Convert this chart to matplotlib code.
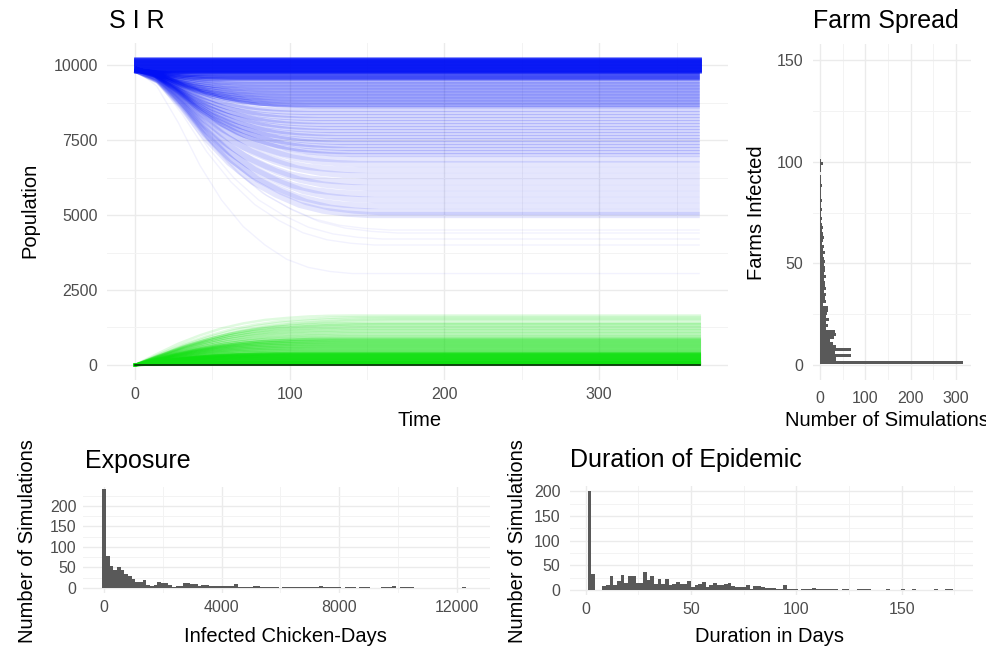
import matplotlib.pyplot as plt
import numpy as np

plt.rcParams['font.family'] = ['Liberation Sans', 'DejaVu Sans']

# ---- SIR simulations ----
days_total = 365
# simulations with no outbreak: susceptible stays flat at the starting size
s_flat = [10230, 10210, 10190, 10170, 10150, 10130, 10110, 10090, 10070, 10050,
          10030, 10010, 9990, 9970, 9950, 9930, 9910, 9890, 9870, 9850, 9830, 9810, 9790, 9770]
s_start = 9850
# simulations with an outbreak: final susceptible, day it levels off, final recovered
s_final = [9750, 9720, 9690, 9660, 9630, 9600, 9570, 9540, 9510,
           9450, 9400, 9350, 9300, 9250, 9200, 9150,
           9100, 9050, 9000, 8950, 8900, 8850, 8800, 8750, 8700, 8650, 8600,
           8500, 8400, 8300, 8200, 8100, 8000, 7900, 7800, 7700, 7600, 7500, 7400,
           7300, 7200, 7100, 7000,
           6850, 6700, 6500, 6300, 6100, 5900, 5700, 5500, 5300, 5100, 5000,
           4500, 4400, 4200, 4000, 3050]
s_end_day = [35, 50, 40, 55, 45, 60, 50, 65, 55,
             65, 75, 70, 80, 72, 85, 78,
             90, 80, 95, 85, 100, 90, 105, 95, 110, 100, 115,
             105, 112, 108, 118, 112, 122, 118, 126, 120, 130, 124, 134,
             128, 138, 132, 140,
             135, 145, 140, 150, 142, 152, 146, 155, 150, 158, 152,
             165, 170, 160, 155, 140]
r_final = [20, 30, 40, 50, 60, 70, 80, 90, 100,
           120, 140, 160, 170, 190, 200, 220,
           230, 250, 270, 280, 300, 310, 330, 350, 360, 380, 400,
           430, 460, 490, 520, 550, 580, 610, 640, 670, 700, 730, 760,
           790, 820, 850, 880,
           920, 960, 1010, 1060, 1110, 1160, 1210, 1260, 1310, 1360, 1400,
           1480, 1520, 1560, 1600, 1650]
# shape of the curves against the fraction of time to plateau
shape_u = [0, 0.1, 0.2, 0.3, 0.4, 0.5, 0.6, 0.7, 0.8, 0.9, 1.0]
decline_f = [0, 0.08, 0.26, 0.47, 0.64, 0.77, 0.86, 0.93, 0.97, 0.99, 1.0]
rise_f = [0, 0.22, 0.43, 0.6, 0.74, 0.84, 0.91, 0.95, 0.98, 0.995, 1.0]

# ---- farm spread histogram (bin width 1.5 farms) ----
farm_bin = 1.5
farm_counts = [317, 36, 69, 33, 69, 36, 29, 22, 30, 35,
               33, 13, 18, 13, 20, 14, 16, 18, 17, 7,
               13, 11, 14, 9, 14, 10, 12, 8, 13, 9,
               11, 12, 9, 11, 8, 7, 10, 6, 8, 5,
               7, 9, 6, 4, 6, 5, 3, 4, 2, 3,
               5, 3, 2, 4, 3, 2, 3, 2, 4, 2,
               3, 2, 1, 3, 2, 6, 2, 0, 1, 0,
               1, 1, 0, 0, 0, 1, 1, 1, 0, 0,
               0, 1, 0, 1, 1, 0, 0, 0, 0, 0,
               0, 0, 0, 0, 0, 0, 0, 0, 0, 1]

# ---- exposure histogram (bin width 125 chicken-days) ----
exp_bin = 125
exp_counts = [240, 78, 54, 44, 50, 45, 34, 28, 22, 15,
              15, 20, 7, 5, 7, 15, 11, 11, 7, 3,
              5, 5, 11, 11, 9, 9, 5, 7, 7, 5,
              5, 5, 5, 5, 5, 5, 9, 3, 3, 3,
              3, 5, 5, 3, 3, 3, 3, 3, 0, 3,
              3, 3, 3, 3, 3, 3, 3, 3, 3, 5,
              3, 3, 3, 3, 3, 0, 3, 3, 3, 0,
              3, 3, 3, 0, 0, 0, 3, 3, 3, 4,
              0, 3, 3, 3, 3, 0, 0, 0, 0, 0,
              0, 0, 0, 0, 0, 0, 0, 0, 2]

# ---- duration histogram (bin width 1.75 days) ----
dur_bin = 1.75
dur_counts = [200, 33, 0, 0, 8, 10, 28, 10, 18, 30,
              15, 28, 28, 15, 15, 37, 20, 28, 12, 22,
              12, 22, 10, 13, 16, 12, 12, 18, 6, 10,
              12, 16, 6, 10, 14, 10, 10, 12, 14, 9,
              6, 6, 6, 10, 3, 8, 8, 6, 5, 5,
              5, 3, 3, 11, 3, 2, 3, 0, 2, 3,
              3, 4, 3, 3, 3, 3, 2, 3, 0, 2,
              2, 0, 0, 2, 2, 2, 2, 0, 0, 0,
              0, 2, 0, 0, 0, 2, 0, 0, 2, 0,
              0, 0, 0, 0, 2, 0, 0, 2, 2]

GRID = '#ebebeb'
TICK = '#4d4d4d'
BAR = '#595959'
W, H = 987, 651

fig = plt.figure(figsize=(9.87, 6.51), dpi=100)


def minimal(ax, xpad=5, ypad=6.5):
    ax.set_facecolor('white')
    for s in ax.spines.values():
        s.set_visible(False)
    ax.tick_params(length=0, labelsize=11.5, labelcolor=TICK)
    ax.tick_params(axis='x', pad=xpad)
    ax.tick_params(axis='y', pad=ypad)
    ax.grid(True, which='major', color=GRID, linewidth=1.0)
    ax.grid(True, which='minor', color='#f3f3f3', linewidth=0.7)
    ax.tick_params(which='minor', length=0, labelleft=False, labelbottom=False)
    ax.set_axisbelow(True)


def label(x, y, text, size=14.5, **kw):
    fig.text(x / W, 1 - y / H, text, fontsize=size, color='black', **kw)


# SIR panel
ax1 = fig.add_axes([0.1081, 0.4158, 0.6295, 0.5184])
minimal(ax1)
u = np.array(shape_u)
for y0 in s_flat:
    ax1.plot([0, days_total], [y0, y0], color='#0010f5', alpha=0.5, lw=2)
for sf, te, rf in zip(s_final, s_end_day, r_final):
    t = np.append(u * te, days_total)
    s = s_start - (s_start - sf) * np.append(decline_f, 1)
    r = rf * np.append(rise_f, 1)
    if sf >= 9500:
        a, w = 0.45, 1.5
    elif sf >= 8600:
        a, w = 0.28, 1.8
    elif sf >= 7000:
        a, w = 0.16, 3.0
    elif sf >= 5000:
        a, w = 0.1, 4.5
    else:
        a, w = 0.05, 1.0
    ax1.plot(t, s, color='#0010f5', alpha=a, lw=w, solid_capstyle='butt')
    ax1.plot(t, r, color='#10e010', alpha=min(1, a * 1.6 + 0.05), lw=1.8)
ax1.plot([0, days_total], [0, 0], color='#0a2a0a', lw=1.2)
ax1.set_xlim(-18.25, 383.25)
ax1.set_ylim(-511, 10741)
ax1.set_xticks([0, 100, 200, 300])
ax1.set_xticks([50, 150, 250, 350], minor=True)
ax1.set_yticks([0, 2500, 5000, 7500, 10000])
ax1.set_yticks([1250, 3750, 6250, 8750], minor=True)
label(109, 28, 'S I R', size=18, va='baseline')
label(30, 210, 'Population', rotation=90, ha='center', va='center')
label(420, 421, 'Time', ha='center', va='center')

# Farm spread panel
ax2 = fig.add_axes([0.8235, 0.4158, 0.160, 0.5169])
minimal(ax2, xpad=8, ypad=7)
farm_centers = farm_bin * (np.arange(len(farm_counts)) + 1)
ax2.barh(farm_centers, farm_counts, height=farm_bin, color=BAR, linewidth=0)
ax2.set_xlim(-15.9, 333)
ax2.set_ylim(-7.5, 158.1)
ax2.set_xticks([0, 100, 200, 300])
ax2.set_xticks([50, 150, 250], minor=True)
ax2.set_yticks([0, 50, 100, 150])
ax2.set_yticks([25, 75, 125], minor=True)
label(813, 28, 'Farm Spread', size=18, va='baseline')
label(757, 213, 'Farms Infected', rotation=90, ha='center', va='center')
label(785, 421, 'Number of Simulations', ha='left', va='center')

# Exposure panel
ax3 = fig.add_axes([0.0843, 0.0894, 0.412, 0.163])
minimal(ax3, ypad=5)
exp_centers = exp_bin * np.arange(len(exp_counts))
ax3.bar(exp_centers, exp_counts, width=exp_bin, color=BAR, linewidth=0)
ax3.set_xlim(-709, 13129)
ax3.set_ylim(-11.75, 246.75)
ax3.set_xticks([0, 4000, 8000, 12000])
ax3.set_xticks([2000, 6000, 10000], minor=True)
ax3.set_yticks([0, 50, 100, 150, 200])
ax3.set_yticks([25, 75, 125, 175, 225], minor=True)
label(85, 468, 'Exposure', size=18, va='baseline')
label(28, 541, 'Number of Simulations', rotation=90, ha='center', va='center')
label(285, 637, 'Infected Chicken-Days', ha='center', va='center')

# Duration panel
ax4 = fig.add_axes([0.5775, 0.086, 0.408, 0.1668])
minimal(ax4, ypad=7)
dur_centers = dur_bin * (np.arange(len(dur_counts)) + 1)
ax4.bar(dur_centers, dur_counts, width=dur_bin, color=BAR, linewidth=0)
ax4.set_xlim(-7.5, 183.7)
ax4.set_ylim(-10, 210)
ax4.set_xticks([0, 50, 100, 150])
ax4.set_xticks([25, 75, 125, 175], minor=True)
ax4.set_yticks([0, 50, 100, 150, 200])
ax4.set_yticks([25, 75, 125, 175], minor=True)
label(570, 467, 'Duration of Epidemic', size=18, va='baseline')
label(518, 541, 'Number of Simulations', rotation=90, ha='center', va='center')
label(770, 637, 'Duration in Days', ha='center', va='center')

fig.savefig('out.png', dpi=100)
